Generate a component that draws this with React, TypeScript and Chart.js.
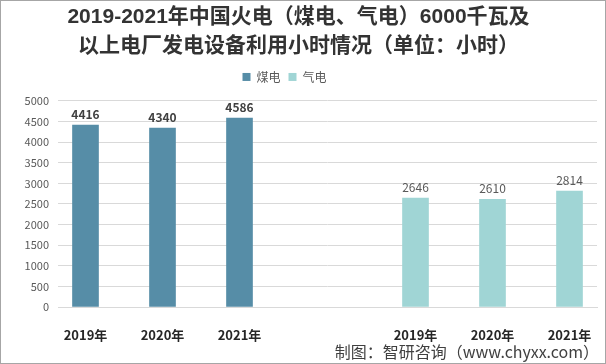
import { useEffect, useRef } from 'react';
import { Chart, registerables, layouts } from 'chart.js';

Chart.register(...registerables);

// ---------- data ----------
const titleLines = [
  '2019-2021年中国火电（煤电、气电）6000千瓦及',
  '以上电厂发电设备利用小时情况（单位：小时）',
];
const seriesNames = ['煤电', '气电'];
const years = ['2019年', '2020年', '2021年'];
const coalValues = [4416, 4340, 4586];
const gasValues = [2646, 2610, 2814];
const yMin = 0;
const yMax = 5000;
const yStep = 500;
const sourceText = '制图：智研咨询（www.chyxx.com）';

// ---------- layout (category slots on the x axis) ----------
const slotCount = 49;
const coalSlots = [2, 9, 16];
const gasSlots = [32, 39, 46];

const FONT = '"Noto Sans CJK SC", "Noto Sans", sans-serif';
const TITLE_FONT = '"Liberation Sans", "Noto Sans CJK SC", sans-serif';
const COAL_COLOR = '#568da7';
const GAS_COLOR = '#a0d5d5';

function buildLabels(): string[] {
  const labels: string[] = new Array(slotCount).fill('');
  coalSlots.forEach((s, i) => (labels[s] = years[i]));
  gasSlots.forEach((s, i) => (labels[s] = years[i]));
  return labels;
}

function buildSeries(slots: number[], values: number[]): (number | null)[] {
  const arr: (number | null)[] = new Array(slotCount).fill(null);
  slots.forEach((s, i) => (arr[s] = values[i]));
  return arr;
}

const valueLabelPlugin = {
  id: 'valueLabels',
  afterDatasetsDraw(chart: any) {
    const ctx = chart.ctx;
    chart.data.datasets.forEach((ds: any, di: number) => {
      const meta = chart.getDatasetMeta(di);
      meta.data.forEach((el: any, i: number) => {
        const v = ds.data[i];
        if (v === null || v === undefined) return;
        ctx.save();
        ctx.font = di === 0 ? `bold 12px ${FONT}` : `12px ${FONT}`;
        ctx.fillStyle = di === 0 ? '#404040' : '#595959';
        ctx.textAlign = 'center';
        ctx.textBaseline = 'bottom';
        ctx.fillText(String(v), el.x, el.y - 5);
        ctx.restore();
      });
    });
  },
};

// empty box placed under the legend, so the plot starts lower
const spacerPlugin = {
  id: 'spacer',
  beforeInit(chart: any) {
    const box: any = {
      position: 'top',
      weight: 1,
      fullSize: true,
      options: {},
      top: 0,
      left: 0,
      right: 0,
      bottom: 0,
      width: 0,
      height: 0,
      update(maxWidth: number) {
        this.width = maxWidth;
        this.height = 8;
      },
      isHorizontal() {
        return true;
      },
      draw() {},
    };
    layouts.addBox(chart, box);
  },
};

const legendShiftPlugin = {
  id: 'legendShift',
  afterLayout(chart: any) {
    const lg = chart.legend;
    if (lg) {
      lg.left -= 14;
      lg.right -= 14;
    }
  },
};

const decorPlugin = {
  id: 'decor',
  afterDraw(chart: any) {
    const ctx = chart.ctx;
    ctx.save();
    ctx.font = `16px ${FONT}`;
    ctx.fillStyle = '#404040';
    ctx.textAlign = 'right';
    ctx.textBaseline = 'middle';
    ctx.fillText(sourceText, chart.width - 7, chart.height - 12);
    ctx.strokeStyle = '#a6a6a6';
    ctx.lineWidth = 1;
    ctx.strokeRect(0.5, 0.5, chart.width - 1, chart.height - 1);
    ctx.restore();
  },
};

export default function App() {
  const ref = useRef<HTMLCanvasElement | null>(null);

  useEffect(() => {
    if (!ref.current) return;
    const chart = new Chart(ref.current, {
      type: 'bar',
      data: {
        labels: buildLabels(),
        datasets: [
          {
            label: seriesNames[0],
            data: buildSeries(coalSlots, coalValues),
            backgroundColor: COAL_COLOR,
            barThickness: 26,
            grouped: false,
          } as any,
          {
            label: seriesNames[1],
            data: buildSeries(gasSlots, gasValues),
            backgroundColor: GAS_COLOR,
            barThickness: 26,
            grouped: false,
          } as any,
        ],
      },
      options: {
        responsive: false,
        animation: false,
        devicePixelRatio: 1,
        layout: { padding: { left: 0, right: 9, top: 0, bottom: 0 } },
        plugins: {
          title: {
            display: true,
            text: titleLines,
            color: '#333333',
            font: { family: TITLE_FONT, size: 21, weight: 'bold', lineHeight: 1.38 },
            padding: { top: 3, bottom: 2 },
          },
          legend: {
            display: true,
            position: 'top',
            labels: {
              boxWidth: 8,
              boxHeight: 8,
              color: '#595959',
              font: { family: FONT, size: 12 },
              padding: 8,
            },
          },
          tooltip: { enabled: false },
        },
        scales: {
          x: {
            type: 'category',
            grid: { display: false },
            border: { display: true, color: '#d9d9d9' },
            ticks: {
              autoSkip: false,
              maxRotation: 0,
              minRotation: 0,
              color: '#262626',
              font: { family: FONT, size: 13, weight: 'bold' },
              padding: 12,
            },
            afterFit: (s: any) => {
              s.height = 57;
            },
          },
          y: {
            min: yMin,
            max: yMax,
            ticks: {
              stepSize: yStep,
              color: '#595959',
              font: { family: FONT, size: 11 },
              padding: 9,
              callback: (v: any) => String(v),
            },
            grid: { color: '#d9d9d9', drawTicks: false },
            border: { display: false },
            afterFit: (s: any) => {
              s.width = 58;
            },
          },
        },
      } as any,
      plugins: [spacerPlugin, valueLabelPlugin, legendShiftPlugin, decorPlugin],
    });
    return () => chart.destroy();
  }, []);

  return (
    <div style={{ position: 'fixed', left: 0, top: 0, width: 606, height: 364, background: '#fff' }}>
      <canvas ref={ref} width={606} height={364} style={{ display: 'block' }} />
    </div>
  );
}
